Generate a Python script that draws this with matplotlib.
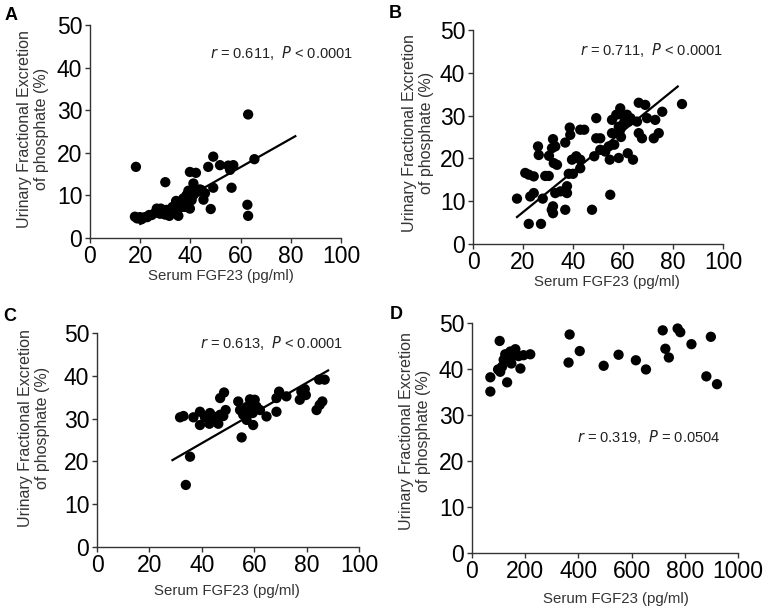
import matplotlib
matplotlib.use("Agg")
import matplotlib.pyplot as plt

plt.rcParams['font.family'] = ['Liberation Sans', 'DejaVu Sans']

# ---------------- data ----------------
a_x = [18.3, 63, 30, 49.1, 47.1, 51.8, 55.1, 57.1, 55.8, 39.8, 42.2, 41.2, 49.1, 56.4, 65.5,
       62.7, 63, 48.1, 45.2, 45.8, 44.5, 17.9, 19.9, 21.9, 23.6, 25.9, 27.9, 28.2, 30.5, 31.6,
       32.9, 35.2, 35.6, 37.2, 38.5, 36.5, 39.8, 40.5, 42.5, 34.5, 32.5, 29.9, 26.6, 24.6, 22.8,
       38.5, 39.2, 41.2, 43.8, 34.3, 37.8, 18.8, 20.5]
a_y = [16.7, 29, 13.1, 19.1, 16.7, 17.1, 17.0, 17.1, 16.0, 15.5, 15.3, 12.8, 11.8, 11.8, 18.5,
       7.8, 5.2, 6.8, 9.0, 10.5, 11.2, 5.0, 4.9, 4.9, 5.4, 5.9, 5.7, 6.9, 6.6, 5.2,
       7.3, 5.2, 8.5, 9.3, 10.1, 7.3, 6.9, 8.9, 10.8, 6.6, 6.2, 5.5, 6.9, 5.4, 4.9,
       8.0, 11.1, 10.1, 11.4, 8.7, 7.3, 4.6, 4.4]
a_fit_x = [20, 81.8]
a_fit_y = [3.3, 23.9]

b_x = [17.6, 22.3, 27.2, 20.9, 22.3, 24.3, 26, 26.3, 22.9, 24.3, 27.9, 28.9, 30.3, 32, 31.6,
       32.9, 30.4, 32.3, 33.6, 32, 32, 32.9, 35, 37.6, 37.6, 36.9, 36.9, 38.7, 38.9, 38.3,
       40, 39.6, 41.3, 42.9, 42.9, 42.9, 44.5, 47.6, 48.5, 49.3, 49.3, 50.9, 50.9, 52.9, 54.3,
       54.7, 54.9, 55.6, 56.5, 55.6, 57.3, 58.9, 58.3, 59.2, 58.3, 60.3, 61.6, 61.9, 64, 60.3,
       58.9, 66.3, 68.9, 69.6, 66.3, 67.6, 65.6, 72.9, 74.3, 72.3, 75.7, 83.6, 62.3, 63, 31.5]
b_y = [10.6, 4.7, 4.7, 16.6, 16.2, 15.8, 22.8, 20.8, 11.1, 11.9, 10.6, 15.9, 15.9, 24.5, 22.4,
       22.8, 20.6, 18.9, 18.5, 8.8, 7.2, 11.9, 12.3, 13.5, 11.9, 8.0, 23.7, 27.2, 25.5, 16.4,
       16.4, 19.7, 20.5, 19.7, 17.7, 26.7, 26.7, 8.0, 20.5, 24.7, 29.4, 24.7, 22.0, 21.6, 22.8,
       19.7, 11.5, 25.9, 23.2, 29.0, 30.2, 31.7, 27.4, 25.0, 20.1, 29.8, 30.2, 21.2, 19.7, 28.2,
       26.7, 33.0, 32.5, 29.4, 25.9, 24.7, 28.6, 29.0, 25.9, 24.7, 30.9, 32.7, 28.6, 29.4, 8.0]
b_fit_x = [17.6, 81.9]
b_fit_y = [6.3, 36.8]

c_x = [31.7, 33, 33.9, 35.5, 36.8, 39.3, 39.3, 41.2, 42.9, 43.1, 44.4, 46.3, 47, 47, 48.5,
       49.1, 48.2, 53.9, 54.6, 55.2, 55.8, 57.1, 57.7, 58.4, 59.4, 59.6, 60.2, 60.9, 62.2, 57.1,
       58.6, 64.7, 68.5, 68.5, 69.5, 72.3, 77.4, 78, 79.3, 79.7, 83.8, 85, 86, 84.8, 86.9, 56.5]
c_y = [30.3, 30.6, 14.5, 21.1, 30.3, 31.6, 28.5, 30.3, 28.8, 31.3, 30.5, 28.8, 30.9, 34.8, 36.1,
       32.0, 30.6, 34.0, 32.0, 25.6, 30.9, 29.7, 32.0, 34.5, 31.3, 28.5, 34.4, 32.8, 32.0, 32.7,
       33.6, 30.5, 31.6, 34.8, 36.3, 35.2, 34.4, 36.3, 36.9, 35.5, 32.0, 33.2, 34.0, 39.1, 39.1, 32.0]
c_fit_x = [28.8, 88.2]
c_fit_y = [20.3, 41.25]

d_x = [104, 69, 69, 98, 106, 113, 132, 125, 144, 163, 150, 175, 194, 219, 148,
       182, 119, 367, 363, 405, 495, 551, 616, 654, 717, 727, 740, 773, 783, 825,
       881, 898, 921]
d_y = [46.1, 38.2, 35.1, 39.9, 39.4, 40.5, 37.1, 43.2, 43.8, 44.3, 42.7, 42.8, 43.0, 43.2, 41.2,
       40.1, 42.0, 47.5, 41.4, 43.9, 40.7, 43.1, 41.9, 39.9, 48.4, 44.4, 42.5, 48.8, 48.0, 45.4,
       38.4, 47.0, 36.7]

panel_labels = ['A', 'B', 'C', 'D']
stats = [r'$r$ = 0.611,  $P$ < 0.0001', r'$r$ = 0.711,  $P$ < 0.0001',
         r'$r$ = 0.613,  $P$ < 0.0001', r'$r$ = 0.319,  $P$ = 0.0504']
ylabel = 'Urinary Fractional Excretion\nof phosphate (%)'
xlabel = 'Serum FGF23 (pg/ml)'

# ---------------- figure ----------------
W, H = 782, 612
fig = plt.figure(figsize=(W / 100, H / 100), dpi=100)

def px_axes(l, r, t, b):
    return fig.add_axes([l / W, 1 - b / H, (r - l) / W, (b - t) / H])

panels = [
    dict(box=(90, 341, 25, 238), x=a_x, y=a_y, fx=a_fit_x, fy=a_fit_y, xmax=100, xstep=20,
         stat_xy=(48, 43.4), lab=(11, 15), yl=(33, 129), xl=(221, 280)),
    dict(box=(473, 723, 30, 244), x=b_x, y=b_y, fx=b_fit_x, fy=b_fit_y, xmax=100, xstep=20,
         stat_xy=(42.8, 45.3), lab=(395, 13), yl=(418, 133), xl=(607, 286)),
    dict(box=(97, 359, 333, 547), x=c_x, y=c_y, fx=c_fit_x, fy=c_fit_y, xmax=100, xstep=20,
         stat_xy=(39.3, 47.7), lab=(10, 316), yl=(34, 428), xl=(227, 595)),
    dict(box=(472, 738, 323, 553), x=d_x, y=d_y, fx=None, fy=None, xmax=1000, xstep=200,
         stat_xy=(395, 25.2), lab=(396, 315), yl=(415, 431), xl=(616, 603)),
]

for i, p in enumerate(panels):
    ax = px_axes(*p['box'])
    ax.scatter(p['x'], p['y'], s=55, color='black', edgecolors='none', zorder=3)
    if p['fx'] is not None:
        ax.plot(p['fx'], p['fy'], color='black', lw=1.6, zorder=4)
    ax.set_xlim(0, p['xmax'])
    ax.set_ylim(0, 50)
    ax.set_xticks(range(0, p['xmax'] + 1, p['xstep']))
    ax.set_yticks(range(0, 51, 10))
    for s in ['top', 'right']:
        ax.spines[s].set_visible(False)
    for s in ['left', 'bottom']:
        ax.spines[s].set_linewidth(1.0)
        ax.spines[s].set_color('#333333')
    ax.tick_params(axis='both', direction='out', length=3.5, width=1.0, color='#333333',
                   labelsize=16.5, pad=2)
    ax.tick_params(axis='x', pad=1.5)
    ax.patch.set_alpha(0)
    ax.text(p['stat_xy'][0], p['stat_xy'][1], stats[i], fontsize=10.5, color='#222222',
            ha='left', va='center', transform=ax.transData)
    fig.text(p['lab'][0] / W, 1 - p['lab'][1] / H, panel_labels[i], fontsize=13,
             fontweight='bold', ha='center', va='center')
    fig.text(p['yl'][0] / W, 1 - p['yl'][1] / H, ylabel, fontsize=11.5, color='#333333',
             rotation=90, ha='center', va='center', multialignment='center', linespacing=1.15)
    fig.text(p['xl'][0] / W, 1 - p['xl'][1] / H, xlabel, fontsize=10.8, color='#333333',
             ha='center', va='baseline')

fig.savefig('out.png', dpi=100)
